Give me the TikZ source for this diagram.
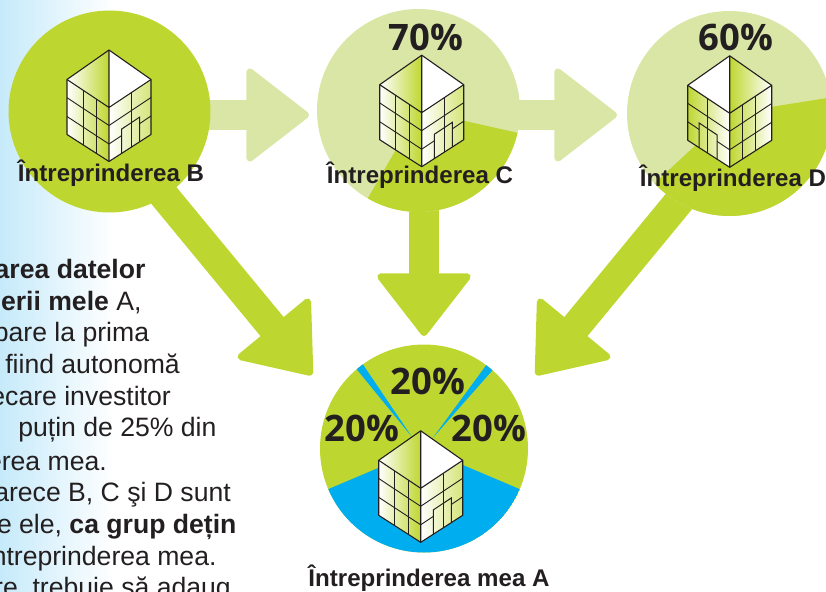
\documentclass[tikz,border=0pt]{standalone}
\usepackage{fontspec}
\setmainfont{Liberation Sans}
\newfontfamily\pctfont{Open Sans}
\usetikzlibrary{arrows.meta,backgrounds}
\definecolor{cgreen}{HTML}{BED730}
\definecolor{clight}{HTML}{D9E6A6}
\definecolor{cblue}{HTML}{00AEEF}
\definecolor{cink}{HTML}{231F20}
\definecolor{csky}{HTML}{C6EAFA}
\tikzset{
  roundel/.style={circle,inner sep=0pt,fill=#1},
  bigarrow/.style={line width=30pt,shorten <=-5pt,-{Triangle[length=65pt,width=99pt,line width=7pt,round]}},
  firmlabel/.style={anchor=base,inner sep=0pt,text=cink,font=\fontsize{24.1}{24}\selectfont\bfseries},
  pctlabel/.style={inner sep=0pt,text=cink,font=\fontsize{36.5}{36.5}\selectfont\pctfont\bfseries},
  bodyline/.style={anchor=base east,inner sep=0pt,text=cink,font=\fontsize{26.6}{27}\selectfont},
  facefade/.style={left color=white,middle color=cgreen!22,right color=cgreen},
  sidefade/.style={left color=white,middle color=cgreen!12,right color=cgreen!65},
  building/.pic={
    \path[facefade] (0,-57.5) -- (-42,-28) -- (0,0) -- cycle;%
    \path[fill=white] (0,-57.5) -- (42,-28) -- (0,0) -- cycle;%
    \path[facefade] (0,0) -- (-42,-28) -- (-42,27) -- (0,54) -- cycle;%
    \path[sidefade] (0,0) -- (42,-28) -- (42,27) -- (0,54) -- cycle;%
    \draw[cink,line width=0.6pt] (-12.6,-8.4) -- ++(0,54.5) (-26,-17.4) -- ++(0,54.5) (22.3,-14.8) -- ++(0,54.5);%
    \draw[cink,line width=0.9pt] (0,18) -- (-42,-9.8) (0,36.5) -- (-42,9) (0,18) -- (42,-10);%
    \draw[cink,line width=0.9pt] (0,36.5) -- (12.6,28.1) (30.7,16.1) -- (42,8.5);%
    \draw[cink,line width=1pt] (12.6,46.1) -- (12.6,21.6) -- (30.7,9.6) -- (30.7,34.1);%
    \draw[cink,line width=1.1pt,line join=round] (0,-57.5) -- (-42,-28) -- (-42,27) -- (0,54) -- (42,27) -- (42,-28) -- cycle;%
    \draw[cink,line width=1.1pt] (-42,-28) -- (0,0) -- (42,-28) (0,-57.5) -- (0,54);%
  }
}
\begin{document}
\begin{tikzpicture}[x=1pt,y=-1pt]%
\useasboundingbox (0,0) rectangle (826,591);%
%
\node[roundel=cgreen,minimum size=202pt] (circB) at (109.5,111.5) {};%
\node[roundel=clight,minimum size=203pt] (circC) at (418.5,110.5) {};%
\node[roundel=clight,minimum size=205pt] (circD) at (729.5,113.5) {};%
\node[roundel=cgreen,minimum size=208pt] (circA) at (424,448.5) {};%
\coordinate (tipC) at (309,115);%
\coordinate (tipD) at (617,115);%
\coordinate (tipAB) at (312,375);%
\coordinate (tipAC) at (424,336);%
\coordinate (tipAD) at (536,375);%
%
\begin{scope}[on background layer]%
\shade[left color=csky,right color=white] (0,0) rectangle (115,591);%
\draw[bigarrow,clight] (circB.east |- tipC) -- (tipC);%
\draw[bigarrow,clight] (circC.east |- tipD) -- (tipD);%
\draw[bigarrow,cgreen] (circB.303) -- (tipAB);%
\draw[bigarrow,cgreen] (circC.south -| tipAC) -- (tipAC);%
\draw[bigarrow,cgreen] (circD.240) -- (tipAD);%
\end{scope}%
%
% shares held
\fill[cgreen,shift={(circC.center)}] (0,0) -- (12.7:101.5) arc[start angle=12.7,end angle=120,radius=101.5] -- cycle;%
\fill[cgreen,shift={(circD.center)}] (0,0) -- (-9:102.5) arc[start angle=-9,end angle=137,radius=102.5] -- cycle;%
\begin{scope}%
\clip (circA.center) circle (104);%
\fill[cblue,shift={(circA.center)}] (0,0) -- (23:104) arc[start angle=23,end angle=157,radius=104] -- cycle;%
\fill[cblue] (412,437) -- (351.8,363.3) -- (358.4,357.8) -- cycle;%
\fill[cblue] (432.7,438) -- (490,360) -- (496.8,365.4) -- cycle;%
\end{scope}%
%
\pic (bldgB) at (109,107.5) {building};%
\pic (bldgC) at (421.7,112.7) {building};%
\pic (bldgA) at (420.7,488.3) {building};%
\pic[xscale=-1,facefade/.style={left color=cgreen,middle color=cgreen!22,right color=white},sidefade/.style={left color=cgreen,middle color=cgreen!22,right color=white}] (bldgD) at (729.7,113.3) {building};%
%
\node[firmlabel] (labB) at (111,181.7) {Întreprinderea B};%
\node[firmlabel] (labC) at (420,183) {Întreprinderea C};%
\node[firmlabel] (labD) at (733,186.7) {Întreprinderea D};%
\node[firmlabel] (labA) at (429,586) {Întreprinderea mea A};%
%
\node[pctlabel] (pctC) at (425.8,37.5) {70\%};%
\node[pctlabel] (pctD) at (736,37.5) {60\%};%
\node[pctlabel] (pctAtop) at (428,381) {20\%};%
\node[pctlabel] (pctAleft) at (361.7,428.5) {20\%};%
\node[pctlabel] (pctAright) at (489,428.5) {20\%};%
%
\foreach \i/\xend/\ybase/\txt in {%
  1/145.7/278.3/{\textbf{area datelor}},%
  2/141.7/310/{\textbf{erii mele} A,},%
  3/149.3/341.7/{pare la prima},%
  4/180/373.3/{fiind autonomă},%
  5/171/405/{ecare investitor},%
  6/216.7/436.7/{puțin de 25\% din},%
  7/107/470/{erea mea.},%
  8/231/501.7/{arece B, C şi D sunt},%
  9/236.7/533.3/{e ele, \textbf{ca grup dețin}},%
  10/216.7/565/{ntreprinderea mea.},%
  11/231/596.7/{re, trebuie să adaug}}{%
  \node[bodyline] (line\i) at (\xend,\ybase) {\txt};%
}%
\end{tikzpicture}
\end{document}
